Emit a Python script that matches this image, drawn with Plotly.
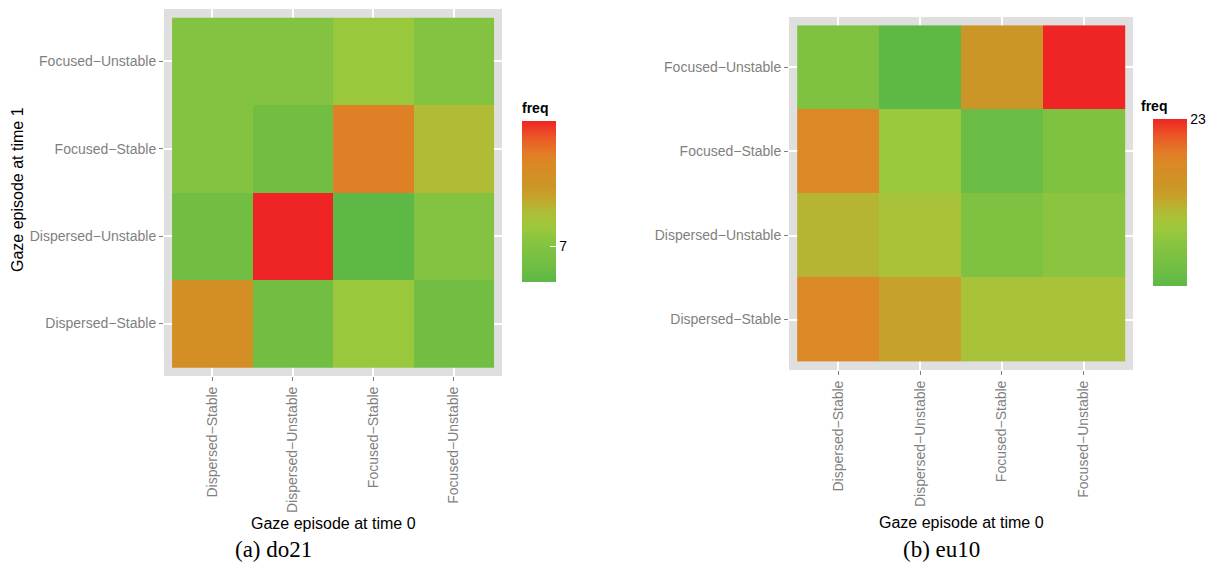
import plotly.graph_objects as go

# page has an 8px body margin, so the figure is drawn 8px in from the window edge
OFF = 8
WIN_W, WIN_H = 1221, 571
W, H = WIN_W - 2 * OFF, WIN_H - 2 * OFF

# ---- data ----
categories = ["Dispersed−Stable", "Dispersed−Unstable", "Focused−Stable", "Focused−Unstable"]
# rows: time-1 category (bottom to top, same order as categories); cols: time-0 category
freq_do21 = [
    [11, 6, 8, 6],    # Dispersed-Stable
    [6, 14, 5, 7],    # Dispersed-Unstable
    [7, 6, 12, 9],    # Focused-Stable
    [7, 7, 8, 7],     # Focused-Unstable
]
freq_eu10 = [
    [19, 16, 14, 14],
    [15, 14, 11, 12],
    [19, 13, 9, 11],
    [11, 8, 17, 23],
]
ticks_do21 = [7]
ticks_eu10 = [23]
captions = ["(a) do21", "(b) eu10"]

colorscale = [
    [0.00, "#5DB846"], [0.10, "#70BE43"], [0.20, "#7FC242"], [0.27, "#8CC540"],
    [0.34, "#9CC83C"], [0.40, "#A8C23A"], [0.45, "#B1BA35"], [0.53, "#C6A22B"],
    [0.60, "#CC9527"], [0.67, "#D38F26"], [0.74, "#DB8826"], [0.80, "#E27C26"],
    [0.90, "#EB5626"], [1.00, "#EE2524"],
]

FONT = "Liberation Sans, Arial, sans-serif"
SERIF = "Liberation Serif, Times New Roman, serif"

def px(x):
    return (x - OFF) / W

def py(y):
    return 1 - (y - OFF) / H

fig = go.Figure()
fig.add_trace(go.Heatmap(x=categories, y=categories, z=freq_do21, coloraxis="coloraxis",
                         xaxis="x", yaxis="y"))
fig.add_trace(go.Heatmap(x=categories, y=categories, z=freq_eu10, coloraxis="coloraxis2",
                         xaxis="x2", yaxis="y2"))

axis_common = dict(
    type="category", categoryorder="array", categoryarray=categories,
    range=[-0.6, 3.6], showgrid=True, gridcolor="white", gridwidth=1.5,
    zeroline=False, showline=False, ticks="outside", ticklen=4, tickwidth=1,
    tickcolor="#7F7F7F", tickfont=dict(family=FONT, size=14, color="#7F7F7F"),
    fixedrange=True,
)

fig.update_layout(
    width=W, height=H, margin=dict(l=0, r=0, t=0, b=0),
    paper_bgcolor="white", plot_bgcolor="#DFDFDF",
    xaxis=dict(axis_common, domain=[px(164), px(502)], anchor="y", tickangle=-90),
    yaxis=dict(axis_common, domain=[py(376), py(9)], anchor="x"),
    xaxis2=dict(axis_common, domain=[px(789), px(1133)], anchor="y2", tickangle=-90),
    yaxis2=dict(axis_common, domain=[py(370), py(17)], anchor="x2"),
    coloraxis=dict(
        colorscale=colorscale,
        colorbar=dict(
            x=px(522), xanchor="left", y=py(121), yanchor="top",
            thickness=34, thicknessmode="pixels", len=161, lenmode="pixels",
            xpad=0, ypad=0, outlinewidth=0,
            tickmode="array", tickvals=ticks_do21, ticks="inside", ticklen=6,
            tickcolor="white", tickwidth=1.2,
            tickfont=dict(family=FONT, size=14, color="black"),
        ),
    ),
    coloraxis2=dict(
        colorscale=colorscale,
        colorbar=dict(
            x=px(1153), xanchor="left", y=py(119), yanchor="top",
            thickness=34, thicknessmode="pixels", len=167, lenmode="pixels",
            xpad=0, ypad=0, outlinewidth=0,
            tickmode="array", tickvals=ticks_eu10, ticks="inside", ticklen=6,
            tickcolor="white", tickwidth=1.2,
            tickfont=dict(family=FONT, size=14, color="black"),
        ),
    ),
    showlegend=False,
)

def note(text, x, y, size, family=FONT, angle=0, xanchor="center", yanchor="middle"):
    return dict(text=text, x=px(x), y=py(y), xref="paper", yref="paper",
                xanchor=xanchor, yanchor=yanchor, showarrow=False, textangle=angle,
                borderpad=0, font=dict(family=family, size=size, color="black"))

ann = [
    note("Gaze episode at time 0", 333, 523, 16),
    note("Gaze episode at time 0", 961, 522, 16),
    note("Gaze episode at time 1", 17, 190, 16, angle=-90),
    note("<b>freq</b>", 521, 108, 14, xanchor="left"),
    note("<b>freq</b>", 1140, 106, 14, xanchor="left"),
    note(captions[0], 273, WIN_H - OFF, 23, family=SERIF, yanchor="bottom"),
    note(captions[1], 941, WIN_H - OFF, 23, family=SERIF, yanchor="bottom"),
]
fig.update_layout(annotations=ann)

fig.write_html("out.html")
